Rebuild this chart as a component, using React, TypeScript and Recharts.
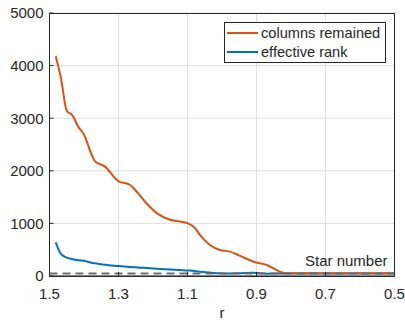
import {
  LineChart,
  Line,
  XAxis,
  YAxis,
  CartesianGrid,
  ReferenceLine,
} from "recharts";

// values
const rValues = [
  1.482, 1.467, 1.45, 1.433, 1.417, 1.4, 1.378, 1.368, 1.339, 1.3, 1.267,
  1.252, 1.228, 1.189, 1.151, 1.122, 1.1, 1.078, 1.064, 1.035, 1.006, 0.977,
  0.953, 0.909, 0.87, 0.832, 0.813, 0.78, 0.74, 0.7, 0.65, 0.6, 0.55, 0.5,
];
const columnsRemained = [
  4180, 3770, 3140, 3050, 2840, 2690, 2310, 2180, 2080, 1800, 1735, 1640, 1450,
  1195, 1068, 1035, 1005, 910, 780, 590, 495, 463, 400, 272, 210, 82, 52, 50,
  50, 50, 50, 50, 50, 50,
];
const effectiveRank = [
  641, 419, 350, 318, 300, 292, 250, 241, 212, 190, 172, 165, 155, 138, 122,
  112, 105, 95, 82, 65, 52, 48, 50, 62, 45, 48, 48, 48, 48, 48, 48, 48, 48, 48,
];
const starNumber = 48;

const xTicks = [1.5, 1.3, 1.1, 0.9, 0.7, 0.5];
const yTicks = [0, 1000, 2000, 3000, 4000, 5000];

const seriesNames = ["columns remained", "effective rank"];
const seriesColors = ["#D95319", "#0072BD"];

const data = rValues.map((r, i) => ({
  r,
  columns: columnsRemained[i],
  rank: effectiveRank[i],
}));

const FONT = "'Liberation Sans', Arial, Helvetica, sans-serif";
const INK = "#262626";
const FS = 15;

export default function App() {
  return (
    <div
      style={{
        position: "absolute",
        left: 0,
        top: 0,
        width: 405,
        height: 320,
        background: "#fff",
        fontFamily: FONT,
      }}
    >
      <LineChart
        width={405}
        height={320}
        data={data}
        margin={{ top: 13, right: 10.5, bottom: 0, left: 4.5 }}
      >
        <CartesianGrid stroke="#e0e0e0" />

        <XAxis
          dataKey="r"
          type="number"
          domain={[0.5, 1.5]}
          reversed
          ticks={xTicks}
          interval={0}
          tickFormatter={(v: number) => v.toFixed(1)}
          height={44}
          tickSize={-4}
          tickMargin={16}
          stroke={INK}
          tick={{ fill: INK, fontSize: FS, fontFamily: FONT }}
          label={{
            value: "r",
            position: "insideBottom",
            offset: 2,
            fill: INK,
            fontSize: FS,
            fontFamily: FONT,
          }}
        />

        <YAxis
          type="number"
          domain={[0, 5000]}
          ticks={yTicks}
          interval={0}
          width={45}
          tickSize={-4}
          tickMargin={10}
          stroke={INK}
          tick={{ fill: INK, fontSize: FS, fontFamily: FONT }}
        />

        <Line
          dataKey="rank"
          type="monotone"
          stroke={seriesColors[1]}
          strokeWidth={2}
          dot={false}
          isAnimationActive={false}
        />
        <Line
          dataKey="columns"
          type="monotone"
          stroke={seriesColors[0]}
          strokeWidth={2}
          dot={false}
          isAnimationActive={false}
        />

        <ReferenceLine
          y={starNumber}
          stroke="#6e6e6e"
          strokeWidth={2.2}
          strokeDasharray="8 5"
          label={{
            value: "Star number",
            position: "insideBottomRight",
            offset: 7,
            fill: INK,
            fontSize: FS,
            fontFamily: FONT,
          }}
        />
      </LineChart>

      {/* axes box outline */}
      <div
        style={{
          position: "absolute",
          left: 49,
          top: 13,
          width: 346,
          height: 264,
          boxSizing: "border-box",
          border: `1px solid ${INK}`,
          pointerEvents: "none",
        }}
      />

      {/* legend box, top right */}
      <div
        style={{
          position: "absolute",
          left: 224,
          top: 22,
          width: 162,
          height: 41,
          boxSizing: "border-box",
          border: `1px solid ${INK}`,
          background: "#fff",
          paddingTop: 0.5,
        }}
      >
        {seriesNames.map((name, i) => (
          <div
            key={name}
            style={{
              display: "flex",
              alignItems: "center",
              height: 19,
              fontSize: 14.6,
              color: INK,
              whiteSpace: "nowrap",
            }}
          >
            <div
              style={{
                width: 31,
                height: 2,
                marginLeft: 2,
                marginRight: 3,
                background: seriesColors[i],
              }}
            />
            <span>{name}</span>
          </div>
        ))}
      </div>
    </div>
  );
}
